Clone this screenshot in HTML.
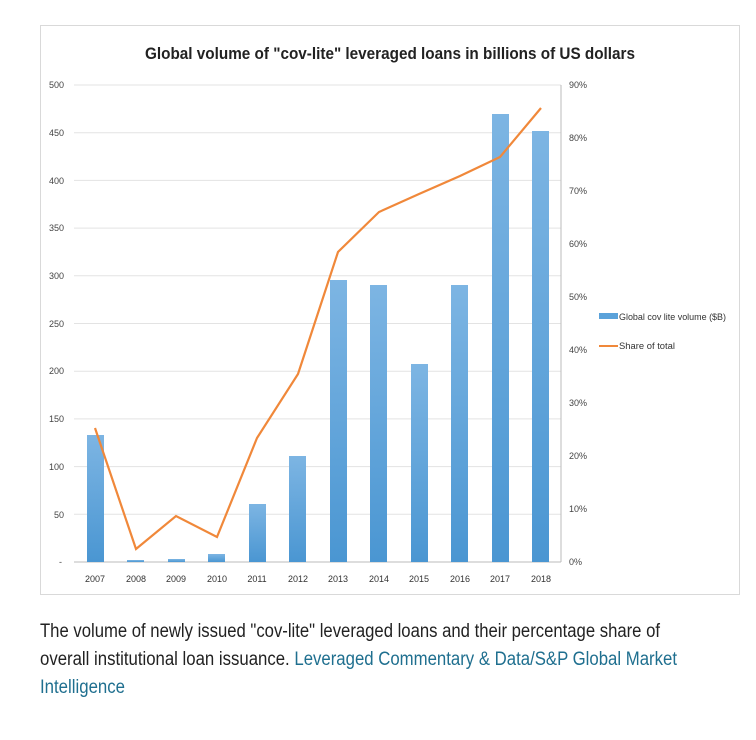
<!DOCTYPE html>
<html><head><meta charset="utf-8"><style>
body{margin:0;width:756px;height:740px;background:#fff;overflow:hidden;font-family:"Liberation Sans",sans-serif}
</style></head><body>
<svg width="756" height="740" style="position:absolute;left:0;top:0" font-family="Liberation Sans, sans-serif">
<defs><linearGradient id="g" x1="0" y1="0" x2="0" y2="1"><stop offset="0" stop-color="#7db5e3"/><stop offset="1" stop-color="#4a96d2"/></linearGradient></defs>
<rect x="40.5" y="25.5" width="699" height="569" fill="#fff" stroke="#d9d9d9"/>
<text x="390" y="59" text-anchor="middle" font-size="17" font-weight="bold" fill="#222" textLength="490" lengthAdjust="spacingAndGlyphs">Global volume of "cov-lite" leveraged loans in billions of US dollars</text>
<g stroke="#e3e3e3" stroke-width="1">
<line x1="74" x2="561" y1="85" y2="85"/><line x1="74" x2="561" y1="132.7" y2="132.7"/><line x1="74" x2="561" y1="180.4" y2="180.4"/><line x1="74" x2="561" y1="228.1" y2="228.1"/><line x1="74" x2="561" y1="275.8" y2="275.8"/><line x1="74" x2="561" y1="323.5" y2="323.5"/><line x1="74" x2="561" y1="371.2" y2="371.2"/><line x1="74" x2="561" y1="418.9" y2="418.9"/><line x1="74" x2="561" y1="466.6" y2="466.6"/><line x1="74" x2="561" y1="514.3" y2="514.3"/>
</g>
<line x1="74" x2="561" y1="562" y2="562" stroke="#bbb"/>
<line x1="561" x2="561" y1="85" y2="562" stroke="#bbb"/>
<g font-size="9" fill="#444" text-anchor="end">
<text x="64" y="88">500</text><text x="64" y="136">450</text><text x="64" y="184">400</text><text x="64" y="231">350</text><text x="64" y="279">300</text><text x="64" y="327">250</text><text x="64" y="374">200</text><text x="64" y="422">150</text><text x="64" y="470">100</text><text x="64" y="518">50</text><text x="62" y="565">-</text>
</g>
<g font-size="9" fill="#444">
<text x="569" y="88">90%</text><text x="569" y="141">80%</text><text x="569" y="194">70%</text><text x="569" y="247">60%</text><text x="569" y="300">50%</text><text x="569" y="353">40%</text><text x="569" y="406">30%</text><text x="569" y="459">20%</text><text x="569" y="512">10%</text><text x="569" y="565">0%</text>
</g>
<g fill="url(#g)">
<rect x="87" y="435" width="17" height="127"/>
<rect x="127" y="560" width="17" height="2"/>
<rect x="168" y="559" width="17" height="3"/>
<rect x="208" y="554" width="17" height="8"/>
<rect x="249" y="504" width="17" height="58"/>
<rect x="289" y="456" width="17" height="106"/>
<rect x="330" y="280" width="17" height="282"/>
<rect x="370" y="285" width="17" height="277"/>
<rect x="411" y="364" width="17" height="198"/>
<rect x="451" y="285" width="17" height="277"/>
<rect x="492" y="114" width="17" height="448"/>
<rect x="532" y="131" width="17" height="431"/>
</g>
<polyline fill="none" stroke="#f0883a" stroke-width="2.2" points="95,428 136,549 176,516 217,537 257,438 298,374 338,252 379,212 419,194 460,176 500,157 541,108"/>
<g font-size="9" fill="#333" text-anchor="middle">
<text x="95" y="582">2007</text><text x="136" y="582">2008</text><text x="176" y="582">2009</text><text x="217" y="582">2010</text><text x="257" y="582">2011</text><text x="298" y="582">2012</text><text x="338" y="582">2013</text><text x="379" y="582">2014</text><text x="419" y="582">2015</text><text x="460" y="582">2016</text><text x="500" y="582">2017</text><text x="541" y="582">2018</text>
</g>
<rect x="599" y="313" width="19" height="6" fill="#5aa2da"/>
<text x="619" y="320" font-size="9" fill="#333" textLength="107" lengthAdjust="spacingAndGlyphs">Global cov lite volume ($B)</text>
<line x1="599" x2="618" y1="346" y2="346" stroke="#f0883a" stroke-width="2"/>
<text x="619" y="349" font-size="9" fill="#333" textLength="56" lengthAdjust="spacingAndGlyphs">Share of total</text>
<g font-size="19" fill="#222">
<text x="40" y="637" textLength="620" lengthAdjust="spacingAndGlyphs">The volume of newly issued "cov-lite" leveraged loans and their percentage share of</text>
<text x="40" y="665" textLength="637" lengthAdjust="spacingAndGlyphs">overall institutional loan issuance. <tspan fill="#1f6f8f">Leveraged Commentary &amp; Data/S&amp;P Global Market</tspan></text>
<text x="40" y="693" fill="#1f6f8f" textLength="85" lengthAdjust="spacingAndGlyphs">Intelligence</text>
</g>
</svg>
</body></html>
